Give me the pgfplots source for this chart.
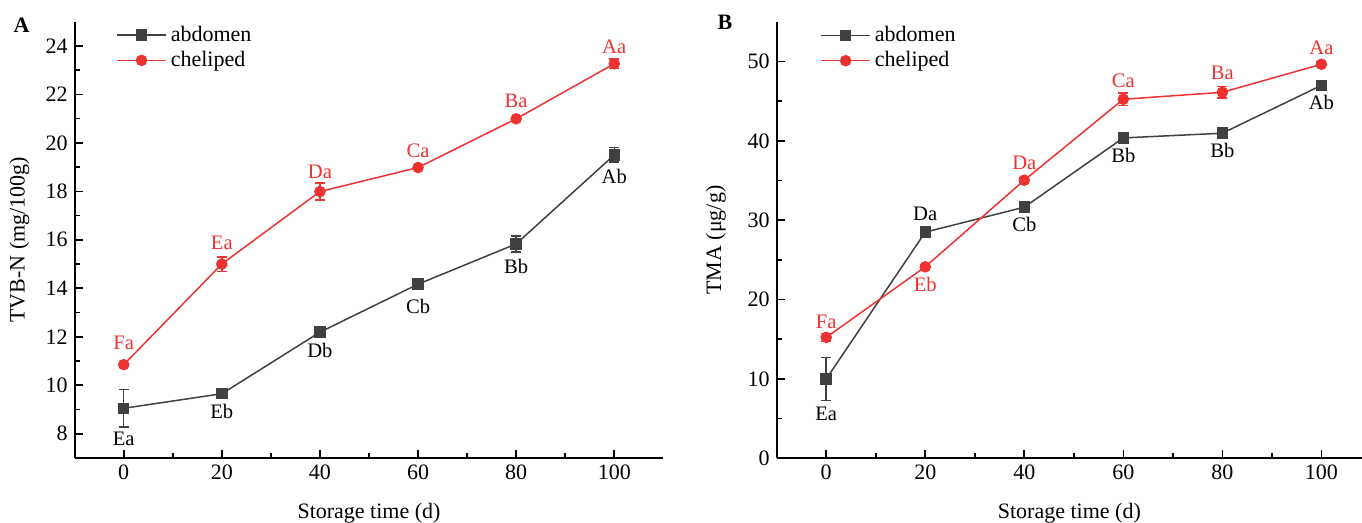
\documentclass[border=0pt]{standalone}
\usepackage{fontspec}
\setmainfont{Liberation Serif}
\usepackage{pgfplots}
\pgfplotsset{compat=1.18}

\definecolor{abd}{RGB}{64,64,64}
\definecolor{che}{RGB}{238,50,50}

\tikzset{lab/.style={font=\fontsize{10.3}{12}\selectfont, anchor=center}}

\pgfplotsset{
  panel/.style={
    scale only axis, height=218.2pt,
    axis x line*=bottom, axis y line*=left,
    axis line style={line width=1pt, black},
    tick align=inside, major tick length=4pt, minor tick length=2.5pt,
    tick style={line width=0.8pt, black},
    minor tick num=1,
    xmin=-10, xtick={0,20,...,100},
    tick label style={font=\fontsize{11}{13}\selectfont},
    /pgf/number format/assume math mode=true,
    label style={font=\fontsize{11}{13}\selectfont},
    xlabel={Storage time (d)},
    xlabel style={at={(axis description cs:0.5,-0.126)}, anchor=center},
    legend style={draw=none, fill=none, anchor=north west, inner sep=0pt,
      font=\fontsize{11}{13}\selectfont, row sep=-0.5pt},
    legend cell align=left,
    legend image code/.code={\draw[mark repeat=2,mark phase=2]
      plot coordinates {(0pt,0pt) (12.25pt,0pt) (24.5pt,0pt)};},
  },
  ser/.style={line width=0.75pt, mark size=2.5pt, mark options={solid},
    error bars/.cd, y dir=both, y explicit,
    error bar style={line width=0.75pt},
    error mark options={rotate=90, mark size=2.5pt, line width=0.75pt}},
}

\begin{document}
\begin{tikzpicture}
\useasboundingbox (0,0) rectangle (681pt,261.5pt);

% panel A
\begin{axis}[panel, at={(37.35pt,32.5pt)}, anchor=south west,
  width=294.3pt, xmax=110,
  ymin=7, ymax=25, ytick={8,10,...,24},
  ylabel={TVB-N (mg/100g)},
  ylabel style={at={(axis description cs:-0.094,0.5)}, anchor=center},
  legend style={at={(axis description cs:0.07,1.0)}},
]
\addplot[abd, mark=square*, ser] coordinates {
  (0,9.05) +- (0,0.78)
  (20,9.65) +- (0,0.15)
  (40,12.19) +- (0,0.05)
  (60,14.17) +- (0,0.15)
  (80,15.83) +- (0,0.33)
  (100,19.5) +- (0,0.3)
};
\addplot[che, mark=*, ser] coordinates {
  (0,10.85) +- (0,0.05)
  (20,15.0) +- (0,0.3)
  (40,17.99) +- (0,0.35)
  (60,18.98) +- (0,0.05)
  (80,20.99) +- (0,0.05)
  (100,23.26) +- (0,0.2)
};
\legend{abdomen, cheliped}
\node[lab, black] at (axis cs:0,9.05) [yshift=-15.5pt] {Ea};
\node[lab, black] at (axis cs:20,9.65) [yshift=-9pt] {Eb};
\node[lab, black] at (axis cs:40,12.19) [yshift=-9pt] {Db};
\node[lab, black] at (axis cs:60,14.17) [yshift=-11pt] {Cb};
\node[lab, black] at (axis cs:80,15.83) [yshift=-11.5pt] {Bb};
\node[lab, black] at (axis cs:100,19.5) [yshift=-11pt] {Ab};
\node[lab, che] at (axis cs:0,10.85) [yshift=11pt] {Fa};
\node[lab, che] at (axis cs:20,15.0) [yshift=10.5pt] {Ea};
\node[lab, che] at (axis cs:40,17.99) [yshift=10pt] {Da};
\node[lab, che] at (axis cs:60,18.98) [yshift=8.5pt] {Ca};
\node[lab, che] at (axis cs:80,20.99) [yshift=9pt] {Ba};
\node[lab, che] at (axis cs:100,23.26) [yshift=8.5pt] {Aa};
\end{axis}

% panel B
\begin{axis}[panel, at={(388.35pt,32.35pt)}, anchor=south west,
  width=292.65pt, xmax=108.2,
  ymin=0, ymax=55, ytick={0,10,...,50},
  ylabel={TMA (μg/g)},
  ylabel style={at={(axis description cs:-0.104,0.5)}, anchor=center},
  legend style={at={(axis description cs:0.074,1.0)}},
]
\addplot[abd, mark=square*, ser] coordinates {
  (0,10.0) +- (0,2.72)
  (20,28.5) +- (0,0.3)
  (40,31.65) +- (0,0.3)
  (60,40.38) +- (0,0.3)
  (80,40.97) +- (0,0.3)
  (100,47.0) +- (0,0.3)
};
\addplot[che, mark=*, ser] coordinates {
  (0,15.24) +- (0,0.5)
  (20,24.13) +- (0,0.3)
  (40,35.05) +- (0,0.3)
  (60,45.25) +- (0,0.78)
  (80,46.13) +- (0,0.75)
  (100,49.66) +- (0,0.3)
};
\legend{abdomen, cheliped}
\node[lab, black] at (axis cs:0,10.0) [yshift=-17.5pt] {Ea};
\node[lab, black] at (axis cs:20,28.5) [yshift=9pt] {Da};
\node[lab, black] at (axis cs:40,31.65) [yshift=-8.5pt] {Cb};
\node[lab, black] at (axis cs:60,40.38) [yshift=-9pt] {Bb};
\node[lab, black] at (axis cs:80,40.97) [yshift=-8.5pt] {Bb};
\node[lab, black] at (axis cs:100,47.0) [yshift=-8.5pt] {Ab};
\node[lab, che] at (axis cs:0,15.24) [yshift=8pt] {Fa};
\node[lab, che] at (axis cs:20,24.13) [yshift=-9pt] {Eb};
\node[lab, che] at (axis cs:40,35.05) [yshift=8.5pt] {Da};
\node[lab, che] at (axis cs:60,45.25) [yshift=9pt] {Ca};
\node[lab, che] at (axis cs:80,46.13) [yshift=9.5pt] {Ba};
\node[lab, che] at (axis cs:100,49.66) [yshift=8pt] {Aa};
\end{axis}

\node[font=\fontsize{11}{13}\selectfont\bfseries] at (10.75pt,249pt) {A};
\node[font=\fontsize{11}{13}\selectfont\bfseries] at (362.5pt,250.5pt) {B};
\end{tikzpicture}
\end{document}
